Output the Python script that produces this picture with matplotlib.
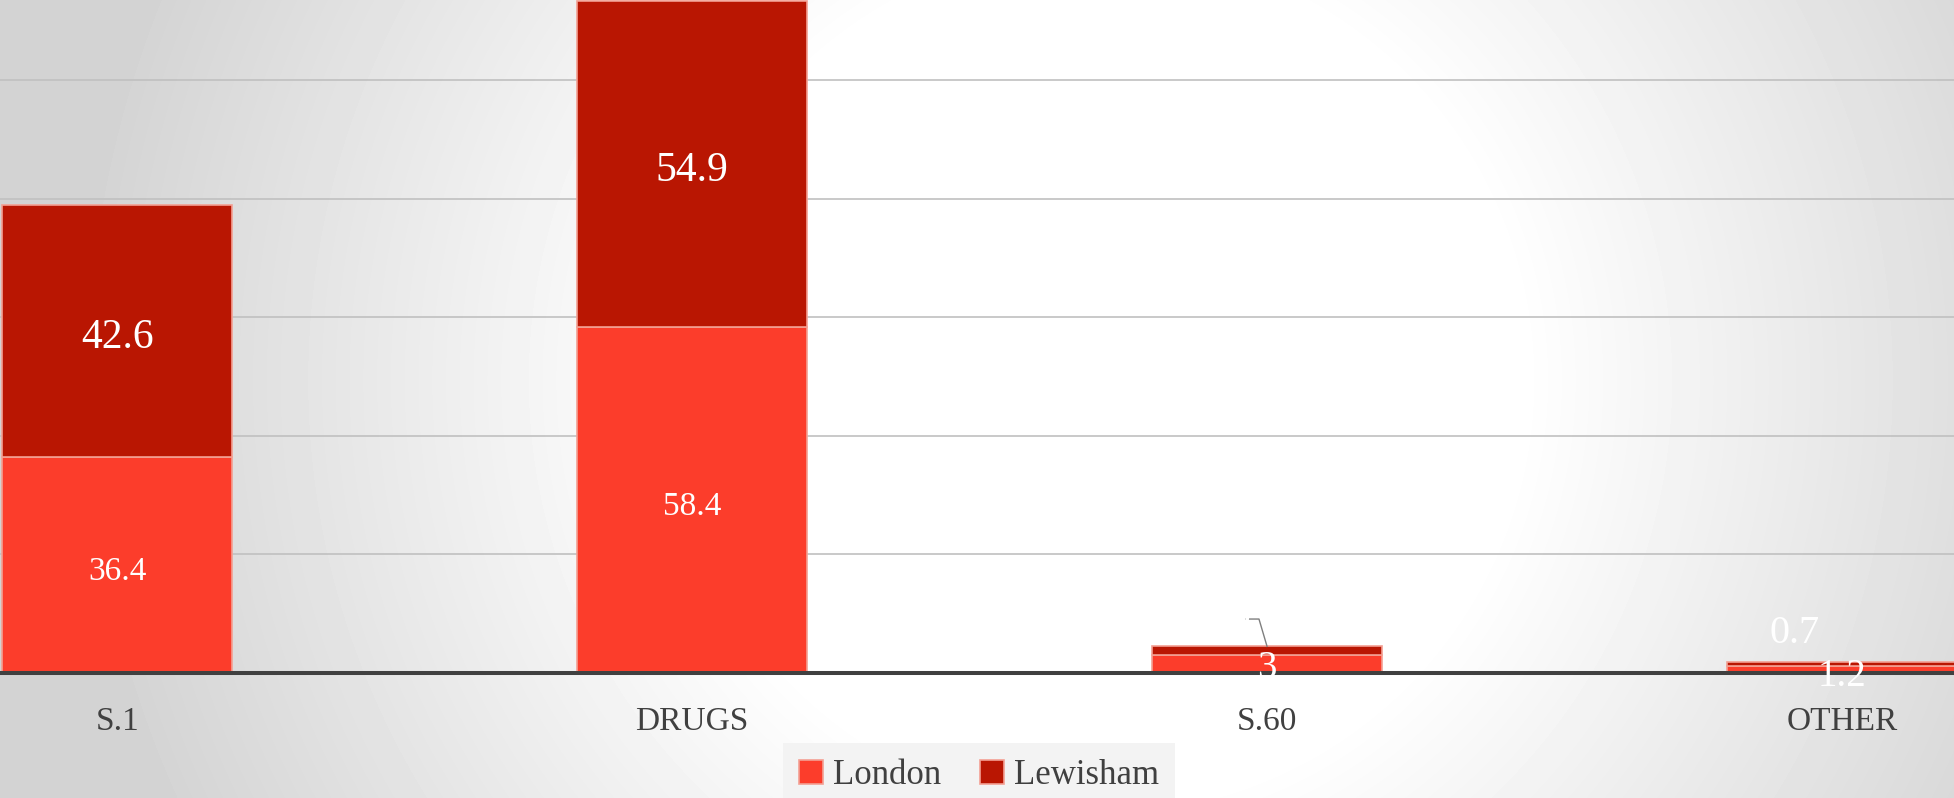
import numpy as np
import matplotlib
matplotlib.use("Agg")
import matplotlib.pyplot as plt

plt.rcParams['font.family'] = ['Liberation Serif', 'DejaVu Serif']

# data
categories = ['S.1', 'DRUGS', 'S.60', 'OTHER']
london = [36.4, 58.4, 3.0, 1.2]
lewisham = [42.6, 54.9, 1.5, 0.7]
series_names = ['London', 'Lewisham']

c_london = '#FC3D2B'
c_lewisham = '#B91602'
c_edge = '#F3A093'
c_text = '#404040'

W, H = 1954, 798
fig = plt.figure(figsize=(W / 100, H / 100), dpi=100)

# radial grey background
bg = fig.add_axes([0, 0, 1, 1], zorder=-10)
yy, xx = np.mgrid[0:H, 0:W]
r = np.hypot(xx - 1100, yy - 380)
shade = 1 - 0.17 * np.clip((r - 420) / 600, 0, 1)
bg.imshow(shade, cmap='gray', vmin=0, vmax=1, aspect='auto',
          extent=[0, 1, 0, 1], interpolation='bilinear')
bg.set_axis_off()

ax = fig.add_axes([0, (H - 673) / H, 1, 673 / H])
ax.patch.set_alpha(0)
x = np.arange(len(categories))
bw = 0.4

ax.bar(x, london, bw, color=c_london, edgecolor=c_edge, linewidth=1.2,
       label=series_names[0], zorder=3)
ax.bar(x, lewisham, bw, bottom=london, color=c_lewisham, edgecolor=c_edge,
       linewidth=1.2, label=series_names[1], zorder=3)

ax.set_xlim(-0.204, 3.195)
ax.set_ylim(0, 113.5)
ax.set_yticks(np.arange(0, 120, 20))
ax.yaxis.grid(True, color='#C0C0C0', linewidth=1.2, zorder=0)
ax.set_axisbelow(True)
ax.tick_params(axis='y', left=False, labelleft=False)
ax.set_xticks(x)
ax.set_xticklabels(categories, fontsize=24, color=c_text)
ax.tick_params(axis='x', length=0, pad=24)
for s in ['top', 'right', 'left']:
    ax.spines[s].set_visible(False)
ax.spines['bottom'].set_color('#404040')
ax.spines['bottom'].set_linewidth(2.9)
ax.spines['bottom'].set_zorder(4)

# data labels (small downward nudge so glyphs sit centred)
dy = 1.2
for i in range(2):
    ax.text(x[i], london[i] / 2 - dy, f'{london[i]:g}', ha='center',
            va='center', color='white', fontsize=24, zorder=5)
    ax.text(x[i], london[i] + lewisham[i] / 2 - dy, f'{lewisham[i]:g}',
            ha='center', va='center', color='white', fontsize=30, zorder=5)

ax.text(x[2], london[2] / 3 - 0.3, f'{london[2]:g}', ha='center',
        va='center', color='white', fontsize=28, zorder=5)
# S.60 Lewisham label sits above the bar with a leader line
top60 = london[2] + lewisham[2]
ax.plot([x[2] - 0.0365, x[2] - 0.014, x[2]], [9.1, 9.1, top60],
        color='#7F7F7F', linewidth=1.0, zorder=5)
ax.text(x[2] - 0.07, 9.6, f'{lewisham[2]:g}', ha='center', va='center',
        color='white', fontsize=28, zorder=5)

ax.text(x[3], -0.6, f'{london[3]:g}', ha='center', va='center',
        color='white', fontsize=28, zorder=5)
ax.text(x[3] - 0.082, 6.6, f'{lewisham[3]:g}', ha='center', va='center',
        color='white', fontsize=29, zorder=5)

leg = fig.legend(loc='upper center', bbox_to_anchor=(0.501, 72 / H), ncol=2,
                 fontsize=25, frameon=True, handlelength=0.7,
                 handleheight=0.7, handletextpad=0.3, columnspacing=1.1,
                 borderpad=0.45, fancybox=False)
leg.get_frame().set_facecolor('#F3F3F3')
leg.get_frame().set_edgecolor('none')
leg.get_frame().set_alpha(1)
for t in leg.get_texts():
    t.set_color(c_text)

fig.savefig('out.png', dpi=100)
